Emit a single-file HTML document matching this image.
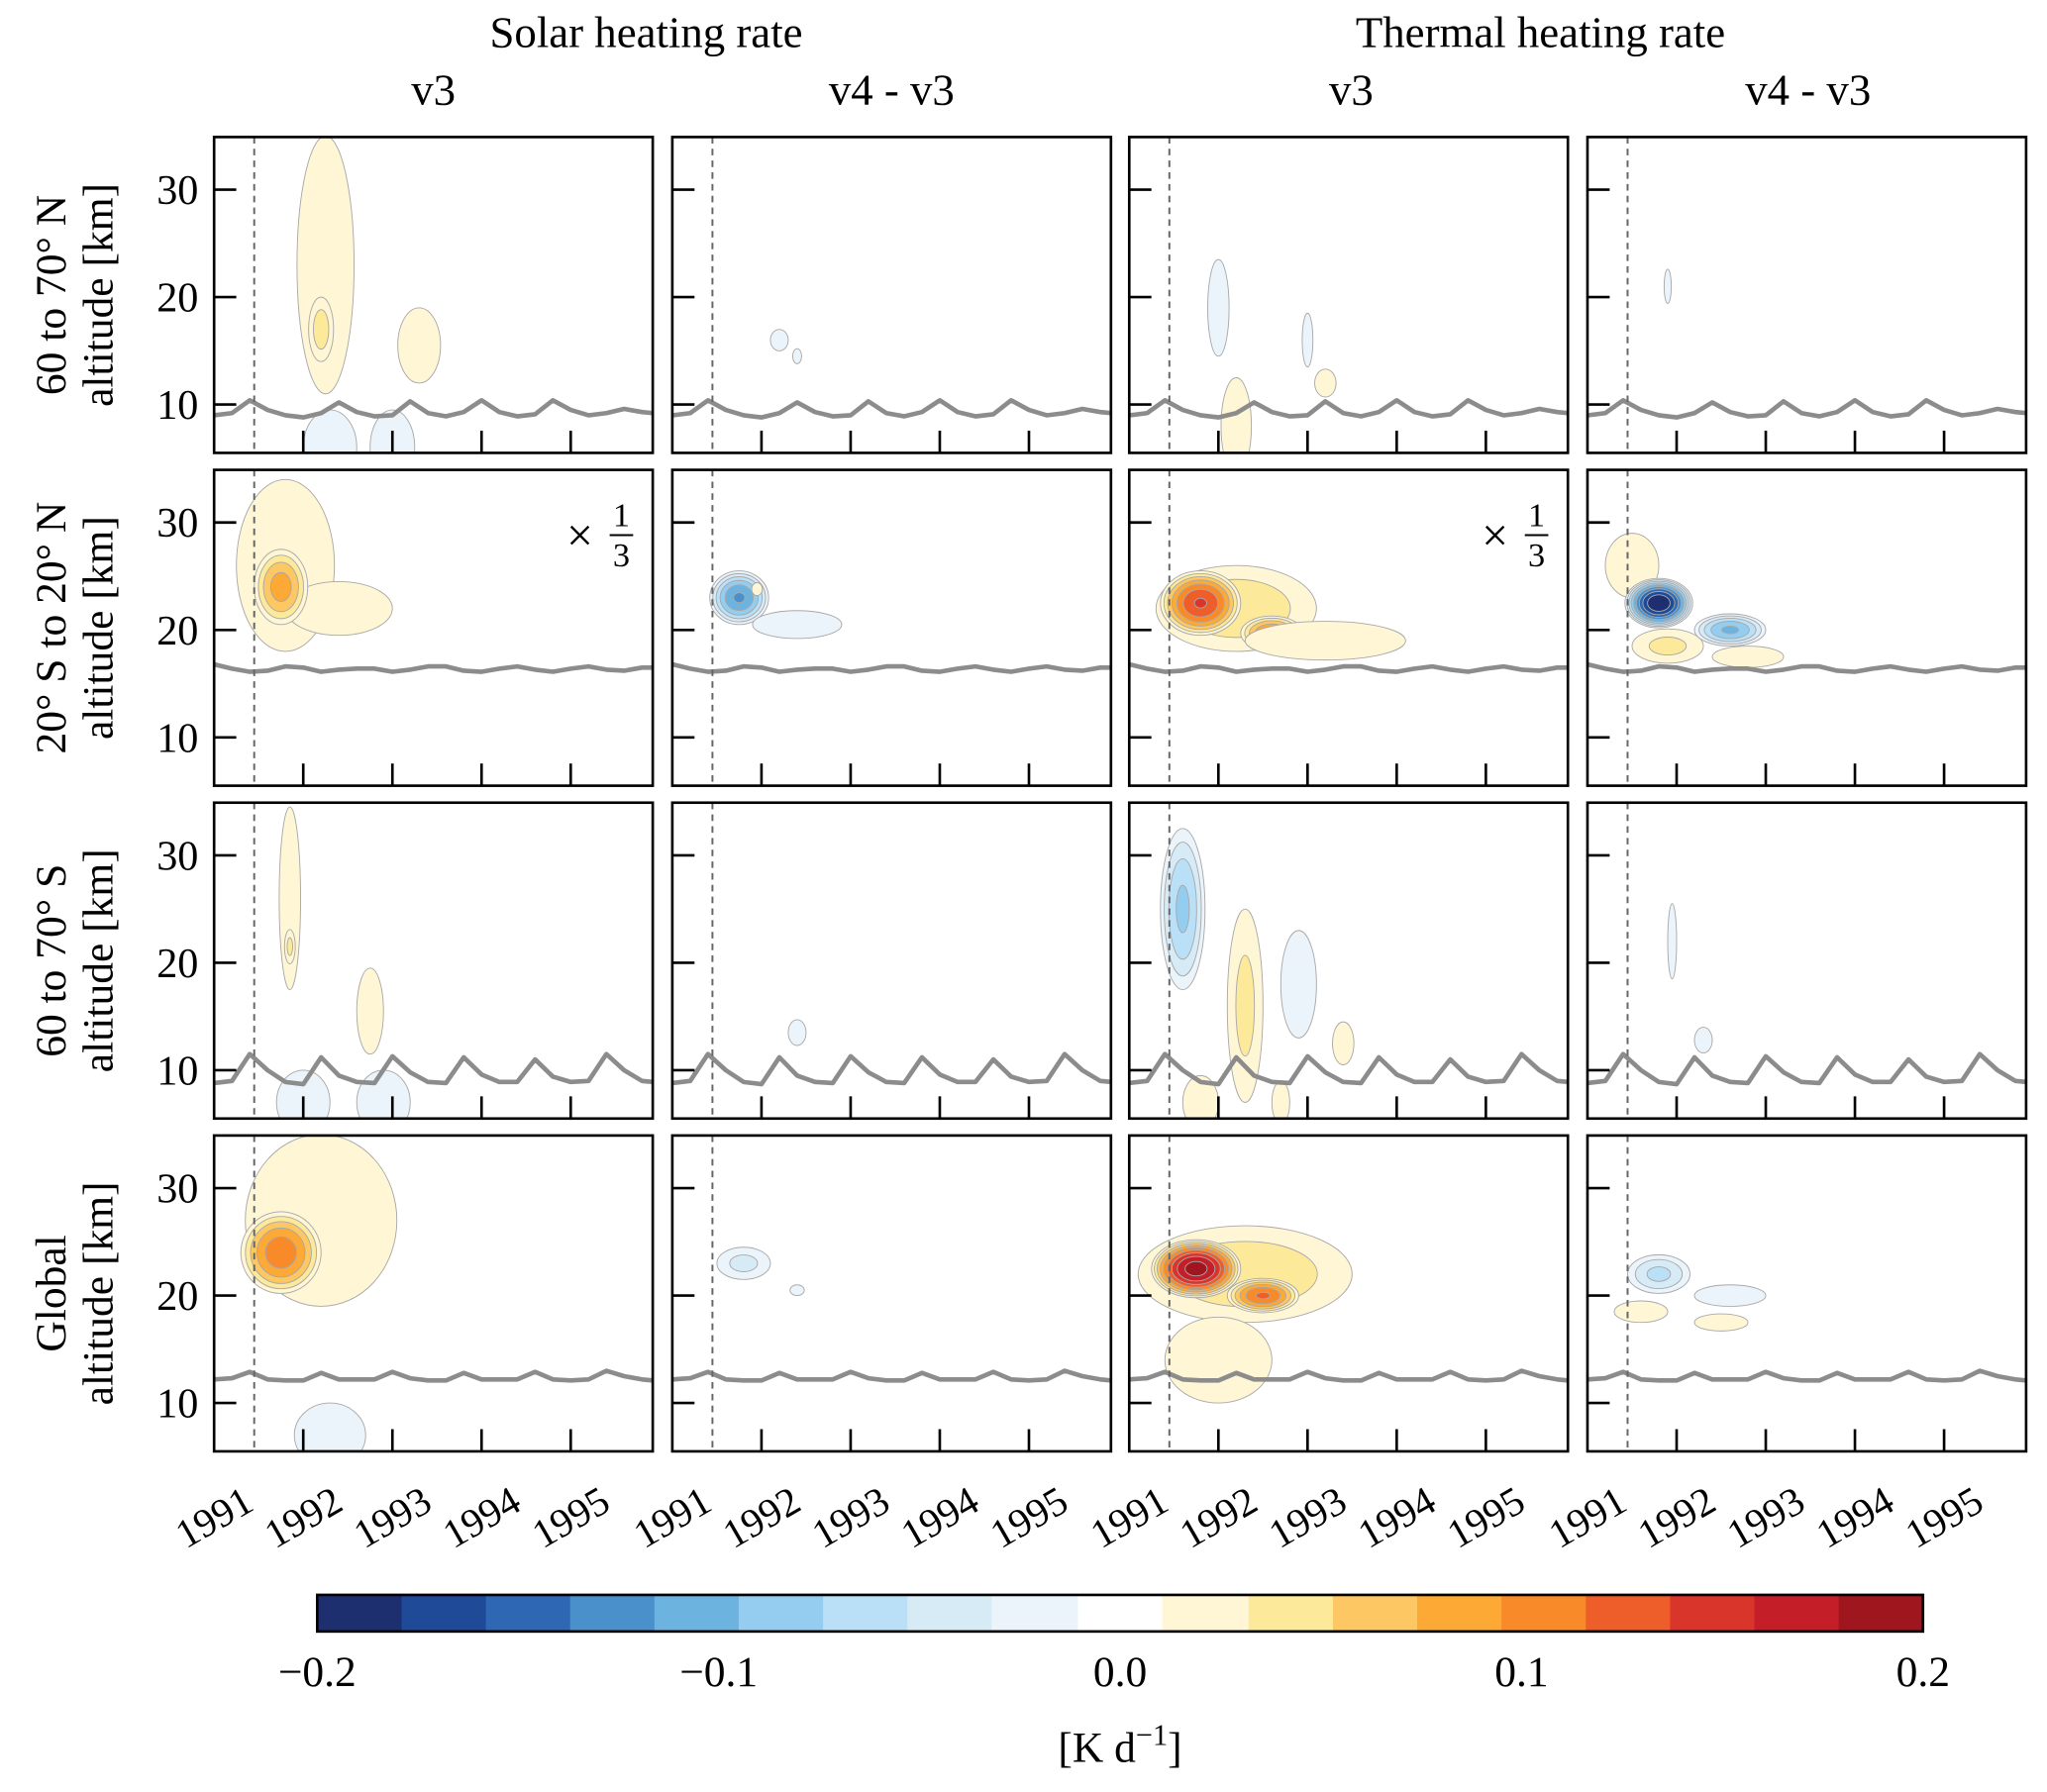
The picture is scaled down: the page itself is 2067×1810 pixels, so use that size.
<!DOCTYPE html>
<html><head><meta charset="utf-8"><style>
html,body{margin:0;padding:0;background:#fff;}
svg{display:block;}
text{font-family:"Liberation Serif","DejaVu Serif",serif;fill:#000;}
</style></head><body>
<svg id="fig" width="2067" height="1810" viewBox="0 0 1568 1373" preserveAspectRatio="none" xmlns="http://www.w3.org/2000/svg">
<defs id="defs"></defs>
<g id="titles">
<text x="495" y="36" font-size="34" text-anchor="middle">Solar heating rate</text>
<text x="1180" y="36" font-size="34" text-anchor="middle">Thermal heating rate</text>
<text x="332" y="80" font-size="34" text-anchor="middle">v3</text>
<text x="683" y="80" font-size="34" text-anchor="middle">v4 - v3</text>
<text x="1035" y="80" font-size="34" text-anchor="middle">v3</text>
<text x="1385" y="80" font-size="34" text-anchor="middle">v4 - v3</text>
</g>
<g id="panels"></g>
<g id="cbar"></g>
</svg>
<script>
// ---- data ----
const rowNames = ["60 to 70° N", "20° S to 20° N", "60 to 70° S", "Global"];
const yTicks = [10, 20, 30];
const xTickLabels = ["1991", "1992", "1993", "1994", "1995"];
const xTickYears = [1991, 1992, 1993, 1994, 1995];
const eruptionYear = 1991.45;
const levels = [-0.2, -0.179, -0.158, -0.137, -0.116, -0.095, -0.074, -0.053, -0.032, -0.0105, 0.0105, 0.032, 0.053, 0.074, 0.095, 0.116, 0.137, 0.158, 0.179, 0.2];
const cbarColors = ["#1d2f6e","#1f4a98","#2e68b4","#4a91cb","#6db3e0","#94cdf0","#b9e0f6","#d7ebf7","#ebf4fb","#ffffff","#fff6d6","#fde99a","#fdc864","#fca935","#f98a2a","#ed5e2a","#d9352a","#c41f28","#a0161f"];
const cbarTicks = [-0.2, -0.1, 0.0, 0.1, 0.2];
const cbarTickLabels = ["\u22120.2", "\u22120.1", "0.0", "0.1", "0.2"];
const tropYears = [1991.0,1991.2,1991.4,1991.6,1991.8,1992.0,1992.2,1992.4,1992.6,1992.8,1993.0,1993.2,1993.4,1993.6,1993.8,1994.0,1994.2,1994.4,1994.6,1994.8,1995.0,1995.2,1995.4,1995.6,1995.8,1995.92];
const tropRow0 = [9.0,9.2,10.4,9.5,9.0,8.8,9.2,10.2,9.3,8.9,9.0,10.3,9.2,8.9,9.3,10.4,9.3,8.9,9.1,10.4,9.5,9.0,9.2,9.6,9.3,9.2];
const tropRow1 = [16.8,16.4,16.1,16.2,16.6,16.5,16.1,16.3,16.4,16.4,16.1,16.3,16.6,16.6,16.2,16.1,16.4,16.6,16.3,16.1,16.4,16.6,16.3,16.2,16.5,16.5];
const tropRow2 = [8.8,9.0,11.5,10.0,8.9,8.7,11.2,9.5,8.9,8.8,11.3,9.8,8.9,8.8,11.2,9.6,8.9,8.9,11.0,9.4,8.9,9.0,11.5,10.0,9.0,8.9];
const tropRow3 = [12.2,12.3,12.9,12.2,12.1,12.1,12.8,12.2,12.2,12.2,12.9,12.3,12.1,12.1,12.8,12.2,12.2,12.2,12.9,12.2,12.1,12.2,13.0,12.5,12.2,12.1];
// blobs: [centerYear, centerKm, radiusYears, radiusKm, peakValue]
const blobs00 = [[1992.25,23,0.32,12,0.03],[1992.2,17,0.14,3,0.045],[1993.3,15.5,0.24,3.5,0.028],[1992.3,6,0.3,3.5,-0.02],[1993.0,6,0.25,3.5,-0.02]];
const blobs01 = [[1992.2,16,0.1,1,-0.02],[1992.4,14.5,0.05,0.7,-0.015]];
const blobs02 = [[1992.0,19,0.12,4.5,-0.02],[1993.0,16,0.06,2.5,-0.02],[1992.2,8,0.17,4.5,0.025],[1993.2,12,0.12,1.3,0.025]];
const blobs03 = [[1991.9,21,0.04,1.6,-0.02]];
const blobs10 = [[1991.8,26,0.55,8,0.03],[1992.4,22,0.6,2.5,0.02],[1991.75,24,0.3,3.5,0.085]];
const blobs11 = [[1991.75,23,0.33,2.5,-0.12],[1992.4,20.5,0.5,1.3,-0.03],[1991.95,23.8,0.06,0.6,0.02]];
const blobs12 = [[1992.2,22,0.9,4,0.05],[1991.8,22.5,0.45,3,0.14],[1992.6,19.7,0.35,1.6,0.1],[1993.2,19,0.9,1.8,0.025]];
const blobs13 = [[1991.5,26,0.3,3,0.025],[1991.9,18.5,0.4,1.6,0.04],[1992.8,17.5,0.4,1,0.03],[1991.8,22.5,0.38,2.3,-0.2],[1992.6,20,0.4,1.5,-0.1]];
const blobs20 = [[1991.85,26,0.12,8.5,0.03],[1991.85,21.5,0.06,1.6,0.04],[1992.75,15.5,0.15,4,0.03],[1992.0,7,0.3,3,-0.02],[1992.9,7,0.3,3,-0.02]];
const blobs21 = [[1992.4,13.5,0.1,1.2,-0.02]];
const blobs22 = [[1991.6,25,0.25,7.5,-0.08],[1992.3,16,0.2,9,0.04],[1992.9,18,0.2,5,-0.02],[1993.4,12.5,0.12,2,0.03],[1991.8,7,0.2,2.5,0.02],[1992.7,7,0.1,2,0.02]];
const blobs23 = [[1991.95,22,0.05,3.5,-0.02],[1992.3,12.8,0.1,1.2,-0.03]];
const blobs30 = [[1992.2,27,0.85,8,0.03],[1991.75,24,0.45,3.8,0.11],[1992.3,7,0.4,3,-0.02]];
const blobs31 = [[1991.8,23,0.3,1.5,-0.04],[1992.4,20.5,0.08,0.5,-0.02]];
const blobs32 = [[1992.3,22,1.2,4.5,0.05],[1991.75,22.5,0.5,2.7,0.19],[1992.5,20,0.4,1.6,0.12],[1992.0,14,0.6,4,0.02]];
const blobs33 = [[1991.6,18.5,0.3,1,0.02],[1992.5,17.5,0.3,0.8,0.02],[1991.8,22,0.35,1.8,-0.06],[1992.6,20,0.4,1,-0.03]];

const panelBlobs = [[blobs00,blobs01,blobs02,blobs03],[blobs10,blobs11,blobs12,blobs13],[blobs20,blobs21,blobs22,blobs23],[blobs30,blobs31,blobs32,blobs33]];
const tropRows = [tropRow0,tropRow1,tropRow2,tropRow3];
const scaleNote = [[false,false,false,false],[true,false,true,false],[false,false,false,false],[false,false,false,false]];

// ---- layout ----
const NS = "http://www.w3.org/2000/svg";
const colX = [164, 515, 865, 1216];
const panelW = 336;
const rowY = [105, 360, 615, 870];
const panelH = 242;
const X0 = 1991.0, X1 = 1995.92, Y0 = 5.5, Y1 = 34.9;
function mk(tag, attrs, parent){ const e=document.createElementNS(NS,tag); for(const k in attrs) e.setAttribute(k,attrs[k]); if(parent) parent.appendChild(e); return e; }
function colorFor(v){ for(let i=0;i<cbarColors.length;i++){ if(v>=levels[i] && v<levels[i+1]) return cbarColors[i]; } return v<0?cbarColors[0]:cbarColors[18]; }

const panels = document.getElementById('panels');
const defs = document.getElementById('defs');
for(let r=0;r<4;r++){
  for(let c=0;c<4;c++){
    const px=colX[c], py=rowY[r];
    const sx = y => px + (y-X0)/(X1-X0)*panelW;
    const sy = k => py + panelH - (k-Y0)/(Y1-Y0)*panelH;
    const clip = mk('clipPath',{id:'clip'+r+c},defs);
    mk('rect',{x:px,y:py,width:panelW,height:panelH},clip);
    const g = mk('g',{'clip-path':'url(#clip'+r+c+')'},panels);
    
    
    const bl = panelBlobs[r][c];
    for(const b of bl){
      const peak=b[4], s=Math.sign(peak), a=Math.abs(peak);
      const th = levels.filter(l=>l>0 && l<a);
      th.forEach(t=>{
        const f = (1 - t/a)/(1 - 0.0105/a);
        const fr = Math.sqrt(f);
        const e = mk('ellipse',{cx:sx(b[0]),cy:sy(b[1]),rx:Math.abs(sx(b[0]+b[2]*fr)-sx(b[0])),ry:Math.abs(sy(b[1]+b[3]*fr)-sy(b[1])),fill:colorFor(s*(t+0.01)),stroke:'#a8a8a8','stroke-width':0.7},g);
        
        
      });
    }
    const tr = tropRows[r];
    const pts = tropYears.map((y,i)=>sx(y).toFixed(1)+','+sy(tr[i]).toFixed(1)).join(' ');
    const pl = mk('polyline',{points:pts,fill:'none',stroke:'#8c8c8c','stroke-width':3.5,'stroke-linejoin':'round'},g);
    
    
    const dl = mk('line',{x1:sx(eruptionYear),x2:sx(eruptionYear),y1:py,y2:py+panelH,stroke:'#666','stroke-width':1.5,'stroke-dasharray':'5,4'},g);
    
    
    const fr = mk('rect',{x:px,y:py,width:panelW,height:panelH,fill:'none',stroke:'#000','stroke-width':2},panels);
    
    
    yTicks.forEach(k=>{
      mk('line',{x1:px,x2:px+17,y1:sy(k),y2:sy(k),stroke:'#000','stroke-width':2},panels);
      if(c===0){
        const t = mk('text',{x:px-12,y:sy(k)+11,'font-size':32,'text-anchor':'end'},panels);
        t.textContent=k;
        
        
      }
    });
    xTickYears.forEach((y,i)=>{
      if(y>X0) mk('line',{x1:sx(y),x2:sx(y),y1:py+panelH,y2:py+panelH-17,stroke:'#000','stroke-width':2},panels);
      if(r===3){
        const lx = sx(y) + 32, ly = py+panelH+44;
        const t = mk('text',{x:lx,y:ly,'font-size':31,'text-anchor':'end',transform:'rotate(-30 '+lx+' '+ly+')'},panels);
        t.textContent=xTickLabels[i];
        
        
      }
    });
    if(scaleNote[r][c]){
      const t = mk('text',{x:px+270,y:py+62,'font-size':36},panels);
      t.textContent='\u00d7';
      
      
      const n = mk('text',{x:px+312,y:py+43,'font-size':26,'text-anchor':'middle'},panels); n.textContent='1';
      
      
      mk('line',{x1:px+303,x2:px+321,y1:py+50,y2:py+50,stroke:'#000','stroke-width':1.5},panels);
      const d = mk('text',{x:px+312,y:py+74,'font-size':26,'text-anchor':'middle'},panels); d.textContent='3';
      
      
    }
  }
  const cy = rowY[r]+panelH/2;
  const t1 = mk('text',{x:50,y:cy,'font-size':33,'text-anchor':'middle',transform:'rotate(-90 50 '+cy+')'},panels);
  t1.textContent=rowNames[r];
  
  
  const t2 = mk('text',{x:86,y:cy,'font-size':33,'text-anchor':'middle',transform:'rotate(-90 86 '+cy+')'},panels);
  t2.textContent='altitude [km]';
  
  
}

const cb = document.getElementById('cbar');
const cbX0=243, cbX1=1473, cbY=1222, cbH=28;
const cx = v => cbX0 + (v+0.2)/0.4*(cbX1-cbX0);
for(let i=0;i<cbarColors.length;i++){
  const rc = mk('rect',{x:cx(levels[i]),y:cbY,width:cx(levels[i+1])-cx(levels[i])+0.5,height:cbH,fill:cbarColors[i]},cb);
  
  
}
mk('rect',{x:cbX0,y:cbY,width:cbX1-cbX0,height:cbH,fill:'none',stroke:'#000','stroke-width':2},cb);
cbarTicks.forEach((v,i)=>{
  const t = mk('text',{x:cx(v),y:1292,'font-size':33,'text-anchor':'middle'},cb);
  t.textContent=cbarTickLabels[i];
  
  
});
const ul = mk('text',{x:858,y:1350,'font-size':33,'text-anchor':'middle'},cb);
ul.innerHTML='[K d<tspan dy="-13" font-size="23">\u22121</tspan><tspan dy="13">]</tspan>';


</script>
</body></html>
